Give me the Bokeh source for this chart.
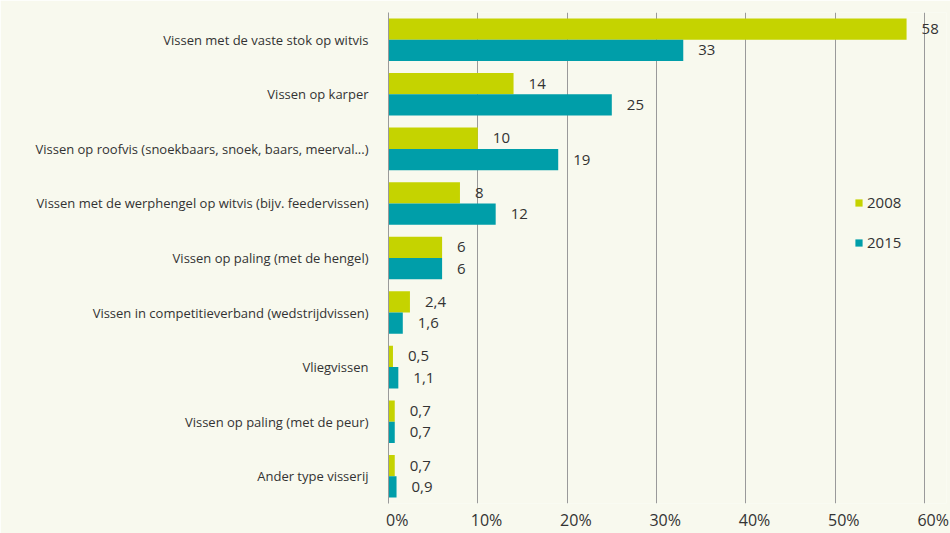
from bokeh.plotting import figure
from bokeh.models import (ColumnDataSource, FactorRange, Range1d, FixedTicker,
                          Legend, LegendItem)
from bokeh.transform import dodge
from bokeh.core.properties import value
from bokeh.embed import file_html
from bokeh.resources import INLINE

# ---- data ----
categories = [
    "Vissen met de vaste stok op witvis",
    "Vissen op karper",
    "Vissen op roofvis (snoekbaars, snoek, baars, meerval...)",
    "Vissen met de werphengel op witvis (bijv. feedervissen)",
    "Vissen op paling (met de hengel)",
    "Vissen in competitieverband (wedstrijdvissen)",
    "Vliegvissen",
    "Vissen op paling (met de peur)",
    "Ander type visserij",
]
values_2008 = [58, 14, 10, 8, 6, 2.4, 0.5, 0.7, 0.7]
values_2015 = [33, 25, 19, 12, 6, 1.6, 1.1, 0.7, 0.9]
series_names = ["2008", "2015"]
tick_values = [0, 10, 20, 30, 40, 50, 60]
tick_labels = ["0%", "10%", "20%", "30%", "40%", "50%", "60%"]

# ---- style ----
BG = "#f8f9ee"
C08 = "#c5d300"
C15 = "#009ea9"
TXT = "#333333"
GRID = "#9a9a9a"
FONT = "Open Sans"


def fmt(v):
    return f"{v:g}".replace(".", ",")


src = ColumnDataSource(dict(
    cat=categories,
    v08=values_2008,
    v15=values_2015,
    l08=[fmt(v) for v in values_2008],
    l15=[fmt(v) for v in values_2015],
))

p = figure(
    width=950, height=533,
    y_range=FactorRange(factors=categories[::-1]),
    x_range=Range1d(0, 62.47),
    output_backend="svg", toolbar_location=None,
    background_fill_color=BG, border_fill_color=BG,
    outline_line_color=None,
    min_border_left=388, min_border_right=4,
    min_border_top=12, min_border_bottom=29,
)

BAR_H = 0.39
OFF = 0.195

r08 = p.hbar(y=dodge("cat", OFF, range=p.y_range), left=0, right="v08",
             height=BAR_H, source=src, fill_color=C08, line_color=None)
r15 = p.hbar(y=dodge("cat", -OFF, range=p.y_range), left=0, right="v15",
             height=BAR_H, source=src, fill_color=C15, line_color=None)

for col, lab, off in (("v08", "l08", OFF), ("v15", "l15", -OFF)):
    p.text(x=col, y=dodge("cat", off, range=p.y_range), text=lab, source=src,
           x_offset=15, text_align="left", text_baseline="middle",
           text_font=value(FONT), text_font_size="15px", text_color=TXT)

# x axis: labels sit slightly to the right of the grid lines, as in the original
shift = 0.975
xt = [t + shift for t in tick_values]
p.xaxis.ticker = FixedTicker(ticks=xt)
p.xaxis.major_label_overrides = {t: l for t, l in zip(xt, tick_labels)}
p.xaxis.axis_line_color = None
p.xaxis.major_tick_line_color = None
p.xaxis.minor_tick_line_color = None
p.xaxis.major_tick_out = 0
p.xaxis.major_tick_in = 0
p.xaxis.minor_tick_out = 0
p.xaxis.major_label_standoff = 5
p.xaxis.major_label_text_font = FONT
p.xaxis.major_label_text_font_size = "16px"
p.xaxis.major_label_text_color = TXT

p.xgrid.ticker = FixedTicker(ticks=tick_values)
p.xgrid.grid_line_color = GRID
p.ygrid.grid_line_color = None

p.yaxis.axis_line_color = GRID
p.yaxis.major_tick_line_color = None
p.yaxis.minor_tick_line_color = None
p.yaxis.major_tick_out = 0
p.yaxis.major_tick_in = 0
p.yaxis.minor_tick_out = 0
p.yaxis.major_label_standoff = 20
p.yaxis.major_label_text_font = FONT
p.yaxis.major_label_text_font_size = "13px"
p.yaxis.major_label_text_color = TXT

legend = Legend(
    items=[LegendItem(label=series_names[0], renderers=[r08]),
           LegendItem(label=series_names[1], renderers=[r15])],
    location=(466, 251),
    glyph_width=9, glyph_height=9, label_height=9,
    label_standoff=4, spacing=20, padding=0, margin=0,
    label_text_font=FONT, label_text_font_size="15px", label_text_color=TXT,
    background_fill_alpha=0, border_line_color=None,
)
p.add_layout(legend)

open("out.html", "w").write(file_html(p, INLINE))
